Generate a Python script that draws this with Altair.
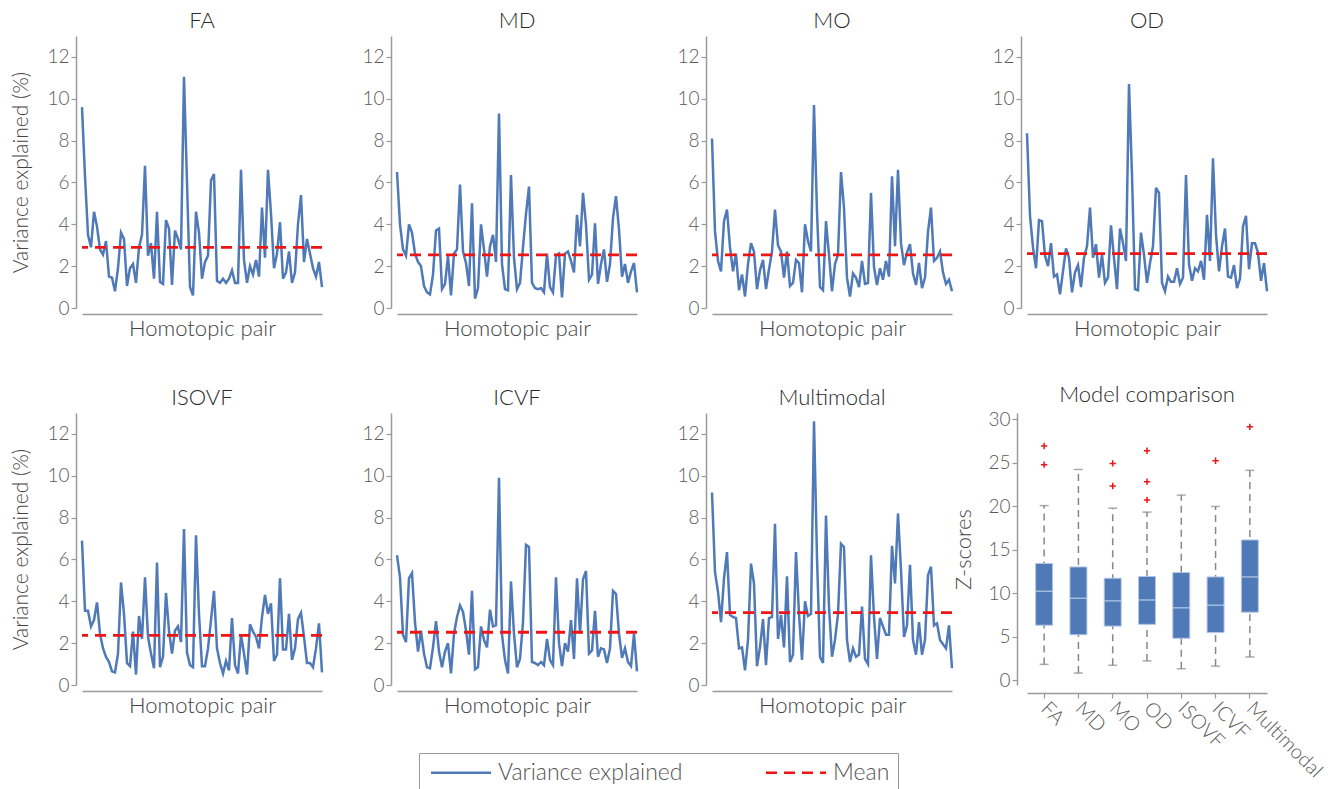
import altair as alt
import pandas as pd

# ---------------- data ----------------
panel_names = ["FA", "MD", "MO", "OD", "ISOVF", "ICVF", "Multimodal"]

fa = [9.6, 6.3, 3.5, 2.9, 4.6, 3.9, 2.8, 2.55, 3.2, 1.5,
      1.45, 0.8, 1.9, 3.6, 3.3, 1.05, 1.9, 2.1, 1.2, 2.9,
      3.5, 6.8, 2.5, 3.1, 1.4, 4.6, 1.25, 1.15, 4.2, 3.8,
      1.1, 3.7, 3.3, 2.8, 11.05, 6.0, 1.0, 0.6, 4.6, 3.6,
      1.4, 2.2, 2.5, 6.1, 6.4, 1.3, 1.2, 1.4, 1.2, 1.4,
      1.8, 1.2, 1.2, 6.6, 2.3, 1.2, 2.0, 1.6, 2.3, 1.5,
      4.8, 2.4, 6.6, 4.5, 1.9, 2.6, 4.1, 1.4, 1.7, 2.7,
      1.2, 1.7, 4.0, 5.4, 2.2, 3.3, 2.6, 1.9, 1.5, 2.2, 1.0]

md = [6.5, 4.0, 2.8, 2.5, 4.0, 3.6, 2.6, 2.2, 2.0, 1.05,
      0.75, 0.65, 1.6, 3.7, 3.8, 0.9, 1.15, 2.5, 0.6, 2.6,
      2.8, 5.9, 2.7, 2.15, 1.05, 5.0, 0.45, 0.95, 4.0, 2.8,
      1.5, 2.95, 3.5, 2.2, 9.3, 2.1, 0.9, 0.85, 6.35, 2.4,
      0.9, 1.2, 2.9, 4.5, 5.8, 1.2, 0.95, 0.9, 0.95, 0.75,
      2.6, 1.0, 0.75, 2.5, 2.6, 0.5, 2.6, 2.7, 2.25, 1.7,
      4.45, 2.95, 5.5, 4.0, 1.35, 1.6, 4.05, 1.15, 2.1, 2.8,
      1.25, 2.1, 4.3, 5.35, 3.75, 1.5, 2.1, 1.2, 1.75, 2.15, 0.75]

mo = [8.1, 3.65, 2.25, 1.75, 4.15, 4.7, 2.9, 1.75, 2.6,
      0.85, 1.6, 0.55, 2.1, 3.1, 2.7, 0.9, 1.8, 2.3, 0.9,
      1.85, 2.7, 4.7, 3.0, 2.7, 1.45, 2.7, 1.05, 1.2, 2.3,
      2.15, 0.75, 4.0, 3.2, 2.7, 9.7, 4.6, 1.0, 0.85, 4.15,
      2.55, 0.8, 2.1, 2.55, 6.5, 4.8, 1.45, 0.55, 1.65, 1.45,
      1.0, 2.25, 1.15, 1.2, 5.5, 1.95, 1.1, 1.9, 1.35, 2.25,
      1.5, 6.3, 2.95, 6.6, 3.1, 2.05, 2.65, 3.05, 1.65, 1.1,
      2.15, 0.95, 1.45, 3.65, 4.8, 2.25, 2.4, 2.7, 1.7, 1.15,
      1.35, 0.8]

od = [8.35, 4.4, 2.9, 1.9, 4.2, 4.15, 2.5, 2.0, 3.1, 1.5,
      1.6, 0.65, 1.75, 2.85, 2.4, 0.75, 1.7, 2.05, 1.0, 2.4,
      2.95, 4.8, 2.4, 3.05, 1.45, 2.55, 1.2, 1.45, 3.95, 2.4,
      0.9, 3.8, 3.1, 2.25, 10.7, 6.35, 0.9, 0.85, 3.6, 2.55,
      1.2, 2.15, 2.95, 5.75, 5.5, 1.2, 0.8, 1.5, 1.25, 1.25,
      1.9, 1.15, 1.45, 6.35, 2.1, 1.3, 1.9, 1.75, 2.25, 1.35,
      4.45, 2.25, 7.15, 3.5, 1.75, 2.95, 3.8, 1.5, 1.45, 2.05,
      0.95, 1.4, 3.9, 4.4, 1.85, 3.1, 3.1, 2.65, 1.3, 2.15, 0.8]

isovf = [6.9, 3.55, 3.55, 2.8, 3.1, 3.95, 2.45, 1.75, 1.35, 1.1,
         0.65, 0.6, 1.5, 4.9, 3.4, 1.05, 0.9, 2.55, 0.5, 3.3,
         2.2, 5.15, 2.3, 1.5, 0.8, 5.85, 0.85, 1.35, 4.4, 2.6,
         1.5, 2.6, 2.8, 2.05, 7.45, 1.55, 0.95, 0.85, 7.15, 3.4,
         0.9, 0.9, 1.75, 3.1, 4.5, 1.75, 1.05, 0.55, 1.15, 0.7,
         3.2, 0.95, 0.55, 2.4, 1.5, 0.5, 2.9, 2.55, 2.3, 1.75,
         3.25, 4.3, 3.4, 3.9, 1.15, 1.45, 5.1, 1.7, 1.7, 3.4,
         1.2, 1.75, 3.15, 3.45, 2.3, 1.05, 1.05, 0.85, 1.75, 2.95, 0.6]

icvf = [6.2, 5.15, 2.4, 2.05, 5.1, 5.35, 3.0, 1.6, 2.6, 1.5,
        0.85, 0.8, 1.8, 3.05, 1.6, 0.85, 1.6, 2.0, 0.55, 2.45,
        3.25, 3.8, 3.5, 2.6, 1.45, 4.5, 0.75, 0.85, 2.8, 2.15,
        1.8, 3.6, 2.8, 2.85, 9.9, 2.4, 1.2, 0.55, 4.95, 2.45,
        0.85, 1.25, 3.0, 6.7, 6.6, 1.1, 1.05, 0.95, 1.1, 0.95,
        2.2, 1.2, 0.95, 5.15, 2.0, 0.9, 2.0, 1.6, 3.1, 1.25,
        5.1, 2.45, 5.05, 5.45, 1.5, 1.65, 3.55, 1.35, 1.75, 1.7,
        1.05, 1.75, 4.5, 4.35, 2.45, 1.3, 1.75, 1.1, 0.9, 2.45, 0.65]

multimodal = [9.2, 5.4, 4.45, 3.0, 5.1, 6.35, 3.35, 3.25, 3.2, 1.75,
              1.8, 0.7, 2.15, 5.8, 4.85, 0.9, 1.8, 3.15, 0.95, 3.2,
              3.25, 7.7, 2.2, 3.35, 1.8, 5.2, 1.1, 1.45, 6.35, 3.4,
              1.2, 4.0, 3.3, 3.4, 12.6, 6.1, 1.35, 1.05, 8.1, 3.75,
              1.35, 2.15, 3.4, 6.75, 6.6, 2.15, 1.1, 1.75, 1.35, 1.45,
              3.75, 1.25, 1.0, 6.2, 3.25, 1.25, 3.2, 2.8, 2.4, 2.4,
              6.65, 4.85, 8.2, 5.5, 2.3, 2.85, 5.75, 2.15, 1.45, 3.0,
              1.45, 2.15, 5.25, 5.65, 2.85, 2.95, 2.15, 1.95, 1.75, 2.85, 0.8]

panel_values = [fa, md, mo, od, isovf, icvf, multimodal]
panel_means = [2.9, 2.54, 2.54, 2.6, 2.37, 2.52, 3.46]

series_names = ["Variance explained", "Mean"]

box_models = ["FA", "MD", "MO", "OD", "ISOVF", "ICVF", "Multimodal"]
box_low = [1.8, 0.8, 1.7, 2.2, 1.3, 1.6, 2.65]
box_q1 = [6.3, 5.2, 6.2, 6.4, 4.8, 5.45, 7.8]
box_med = [10.2, 9.4, 9.1, 9.2, 8.3, 8.6, 11.85]
box_q3 = [13.4, 13.0, 11.7, 11.9, 12.35, 11.85, 16.1]
box_high = [20.05, 24.2, 19.75, 19.3, 21.25, 19.95, 24.1]
outlier_model = ["FA", "FA", "MO", "MO", "OD", "OD", "OD", "ICVF", "Multimodal"]
outlier_value = [24.75, 26.9, 22.3, 24.9, 20.7, 22.8, 26.35, 25.2, 29.1]

# ---------------- style ----------------
BLUE = "#4f79b7"
RED = "#f01414"
FONT = "Lato"
W, H = 240, 272

legend = alt.Legend(
    title=None, orient="none", legendX=337, legendY=717,
    direction="horizontal", symbolType="M-1,0L7,0", symbolSize=225,
    symbolStrokeWidth=2.5, labelFontSize=23, labelColor="#555",
    labelFont=FONT, labelFontWeight=300, labelLimit=400,
    strokeColor="#999", padding=8, columnPadding=78, labelOffset=48,
)

color_enc = alt.Color("series:N", scale=alt.Scale(domain=series_names, range=[BLUE, RED]),
                      legend=legend)
dash_enc = alt.StrokeDash("series:N", scale=alt.Scale(domain=series_names,
                                                      range=[[1, 0], [11, 7]]),
                          legend=legend)


def line_panel(name, values, mean, first_col):
    df = pd.DataFrame({"pair": list(range(len(values))), "value": values,
                       "series": "Variance explained"})
    mdf = pd.DataFrame({"value": [mean], "series": ["Mean"]})
    yaxis = alt.Axis(values=[0, 2, 4, 6, 8, 10, 12], offset=6, tickSize=5,
                     title="Variance explained (%)" if first_col else None,
                     titlePadding=15)
    line = alt.Chart(df).mark_line(strokeWidth=2.5).encode(
        x=alt.X("pair:Q",
                scale=alt.Scale(domain=[0, len(values) - 1], nice=False, zero=False),
                axis=alt.Axis(labels=False, ticks=False, title="Homotopic pair",
                              offset=6, titlePadding=4, titleFontSize=22)),
        y=alt.Y("value:Q", scale=alt.Scale(domain=[0, 13], nice=False), axis=yaxis),
        color=color_enc,
        strokeDash=dash_enc,
    )
    rule = alt.Chart(mdf).mark_rule(strokeWidth=2.8).encode(
        y=alt.Y("value:Q"),
        color=color_enc,
        strokeDash=dash_enc,
    )
    return alt.layer(line, rule).properties(width=W, height=H, title=name)


panels = [line_panel(n, v, m, i % 4 == 0)
          for i, (n, v, m) in enumerate(zip(panel_names, panel_values, panel_means))]

# ---------------- box plot ----------------
bdf = pd.DataFrame({"model": box_models, "low": box_low, "q1": box_q1,
                    "med": box_med, "q3": box_q3, "high": box_high})
odf = pd.DataFrame({"model": outlier_model, "value": outlier_value})

xb = alt.X("model:N", sort=box_models,
           scale=alt.Scale(paddingInner=0, paddingOuter=0),
           axis=alt.Axis(title=None, labelAngle=45, labelAlign="left",
                         labelBaseline="middle", labelPadding=7, offset=8,
                         tickSize=5, labelFontSize=20))
yscale = alt.Scale(domain=[-0.57, 30.69], nice=False, zero=False)
yaxis_b = alt.Axis(values=[0, 5, 10, 15, 20, 25, 30], offset=10, tickSize=5,
                   title="Z-scores", titlePadding=12, titleFontSize=22)

base = alt.Chart(bdf)
whisk = base.mark_rule(color="#888", strokeWidth=1.5, strokeDash=[7, 5]).encode(
    x=xb, y=alt.Y("low:Q", scale=yscale, axis=yaxis_b, title="Z-scores"), y2="high:Q")
cap_lo = base.mark_tick(color="#888", size=9, thickness=1.5).encode(
    x=xb, y=alt.Y("low:Q", scale=yscale, title="Z-scores"))
cap_hi = base.mark_tick(color="#888", size=9, thickness=1.5).encode(
    x=xb, y=alt.Y("high:Q", scale=yscale, title="Z-scores"))
box = base.mark_bar(size=17, color=BLUE, stroke="#b3c7e5", strokeWidth=1).encode(
    x=xb, y=alt.Y("q1:Q", scale=yscale, title="Z-scores"), y2="q3:Q")
med = base.mark_tick(color="#c9d7ee", size=17, thickness=1.5).encode(
    x=xb, y=alt.Y("med:Q", scale=yscale, title="Z-scores"))
outl = alt.Chart(odf).mark_point(shape="M-1,0L1,0M0,-1L0,1", size=40, color=RED,
                                 strokeWidth=1.5, filled=False, opacity=1).encode(
    x=xb, y=alt.Y("value:Q", scale=yscale, title="Z-scores"))

boxplot = alt.layer(whisk, cap_lo, cap_hi, box, med, outl).properties(
    width=W, height=H, title="Model comparison")

chart = alt.concat(*panels, boxplot, columns=4, bounds="flush",
                   spacing={"row": 105, "column": 75}).configure_view(
    stroke=None
).configure_axis(
    grid=False, domainColor="#9a9a9a", tickColor="#9a9a9a", domainWidth=1.5,
    tickWidth=1.2, labelColor="#5a5a5a", labelFontSize=19, labelFont=FONT,
    labelFontWeight=300, titleFont=FONT, titleFontSize=21, titleFontWeight=300,
    titleColor="#444",
).configure_title(
    font=FONT, fontSize=22, fontWeight=300, color="#2a2a2a", offset=3
).properties(background="white", padding={"left": 10, "top": 10, "right": 5, "bottom": 5})

chart.save("out.html", embed_options={"renderer": "svg", "actions": False})
